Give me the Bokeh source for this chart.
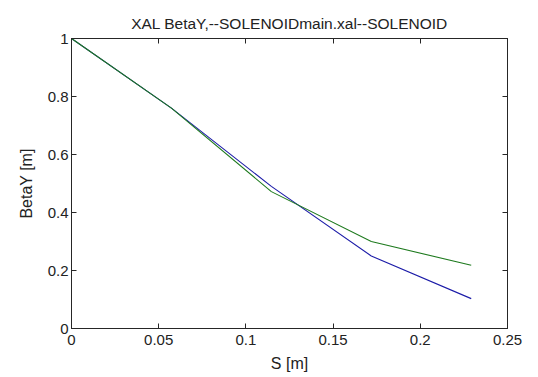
from bokeh.plotting import figure
from bokeh.models import FixedTicker, LinearAxis, CustomJSTickFormatter, Range1d
from bokeh.embed import file_html
from bokeh.resources import INLINE

# Data
s_values = [0.0, 0.0573, 0.1146, 0.1719, 0.2292]
beta_blue = [1.0, 0.76, 0.49, 0.25, 0.103]
beta_green = [1.0, 0.76, 0.472, 0.30, 0.218]

x_ticks = [0, 0.05, 0.1, 0.15, 0.2, 0.25]
x_tick_labels = ["0", "0.05", "0.1", "0.15", "0.2", "0.25"]
y_ticks = [0, 0.2, 0.4, 0.6, 0.8, 1.0]
y_tick_labels = ["0", "0.2", "0.4", "0.6", "0.8", "1"]

title_text = "XAL BetaY,--SOLENOIDmain.xal--SOLENOID"
x_label = "S [m]"
y_label = "BetaY [m]"

FONT = "Liberation Sans"
AX_COLOR = "#262626"
TXT = "#222222"

p = figure(width=538, height=377, output_backend="svg", toolbar_location=None,
           x_range=Range1d(0, 0.25), y_range=Range1d(0, 1),
           min_border_left=71, min_border_right=31, min_border_top=38, min_border_bottom=49)
p.title.text = title_text
p.title.align = "center"
p.title.text_font = FONT
p.title.text_font_size = "15.5px"
p.title.text_font_style = "normal"
p.title.text_color = TXT
p.title.standoff = 13

p.grid.visible = False
p.outline_line_color = AX_COLOR
p.outline_line_alpha = 1.0
p.background_fill_color = "white"

def style(ax):
    ax.axis_line_color = AX_COLOR
    ax.major_tick_line_color = AX_COLOR
    ax.major_tick_in = 5
    ax.major_tick_out = 0
    ax.minor_tick_line_color = None
    ax.major_label_text_font = FONT
    ax.major_label_text_font_size = "15px"
    ax.major_label_text_color = TXT
    ax.axis_label_text_font = FONT
    ax.axis_label_text_font_size = "16px"
    ax.axis_label_text_font_style = "normal"
    ax.axis_label_text_color = TXT

xa = p.xaxis[0]
ya = p.yaxis[0]
style(xa); style(ya)
xa.ticker = FixedTicker(ticks=x_ticks)
ya.ticker = FixedTicker(ticks=y_ticks)
xa.major_label_overrides = {t: l for t, l in zip(x_ticks, x_tick_labels)}
ya.major_label_overrides = {t: l for t, l in zip(y_ticks, y_tick_labels)}
xa.axis_label = x_label
ya.axis_label = y_label
xa.major_label_standoff = 6
ya.major_label_standoff = 3
xa.axis_label_standoff = 7
ya.axis_label_standoff = 10

blank = CustomJSTickFormatter(code="return ''")
top = LinearAxis(ticker=FixedTicker(ticks=x_ticks), formatter=blank)
right = LinearAxis(ticker=FixedTicker(ticks=y_ticks), formatter=blank)
for ax in (top, right):
    style(ax)
    ax.major_label_standoff = 0
p.add_layout(top, "above")
p.add_layout(right, "right")

p.line(s_values, beta_blue, line_color="#1c1ca8", line_width=1.1)
p.line(s_values, beta_green, line_color="#1e7a1e", line_width=1.1)

open("out.html", "w").write(file_html(p, INLINE))
